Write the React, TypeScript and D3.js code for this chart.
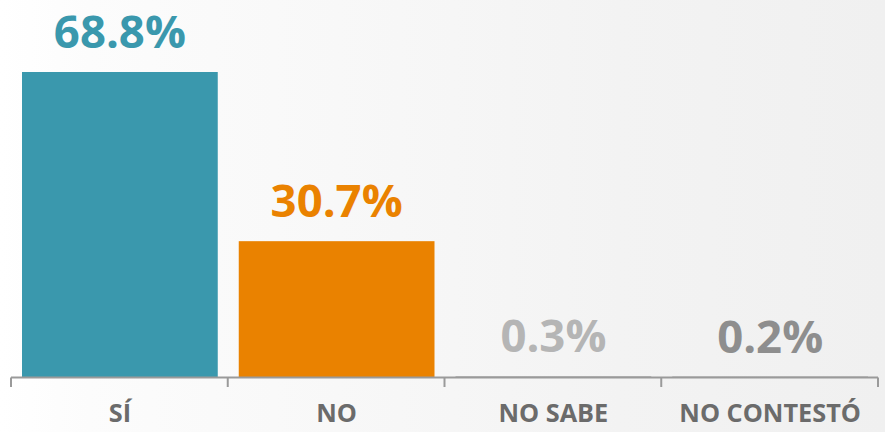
import React from "react";
import * as d3 from "d3";

const categories = ["SÍ", "NO", "NO SABE", "NO CONTESTÓ"];
const values = [68.8, 30.7, 0.3, 0.2];
const valueLabels = ["68.8%", "30.7%", "0.3%", "0.2%"];
const colors = ["#3a98ad", "#ea8200", "#b3b3b3", "#8c8c8c"];
const labelColors = ["#3a98ad", "#ea8200", "#b5b5b5", "#8e8e8e"];

const W = 885;
const H = 432;
const axisY = 377.5;
const x0 = 11;
const x1 = 878;
const font = "'Open Sans', 'DejaVu Sans', sans-serif";

export default function App() {
  const xCat = d3.scaleBand<string>().domain(categories).range([x0, x1]);
  const inset = 10.5;
  const barW = xCat.bandwidth() - 2 * inset;
  const y = d3.scaleLinear().domain([0, 68.8]).range([axisY, 72]);
  const ticks = d3.range(categories.length + 1).map((i) => x0 + (i * (x1 - x0)) / categories.length);

  return (
    <svg width={W} height={H} style={{ position: "absolute", left: 0, top: 0 }}>
      <defs>
        <linearGradient id="bg" x1="0" x2="1" y1="0" y2="0">
          <stop offset="0" stopColor="#ffffff" />
          <stop offset="0.1" stopColor="#fcfcfc" />
          <stop offset="0.45" stopColor="#f7f7f7" />
          <stop offset="0.7" stopColor="#f3f3f3" />
          <stop offset="1" stopColor="#f0f0f0" />
        </linearGradient>
      </defs>
      <rect x={0} y={0} width={W} height={H} fill="url(#bg)" />
      {categories.map((c, i) => (
        <rect key={c} x={(xCat(c) as number) + inset + 0.5} y={y(values[i])} width={barW} height={axisY - y(values[i])} fill={colors[i]} />
      ))}
      <line x1={x0} x2={x1} y1={axisY} y2={axisY} stroke="#9a9a9a" strokeWidth={2} />
      {ticks.map((t, i) => (
        <line key={i} x1={t} x2={t} y1={axisY} y2={387} stroke="#9a9a9a" strokeWidth={2} />
      ))}
      {categories.map((c, i) => (
        <text
          key={"v" + c}
          x={(xCat(c) as number) + xCat.bandwidth() / 2 + 0.5}
          y={y(values[i]) - 24}
          textAnchor="middle"
          fontFamily={font}
          fontWeight={700}
          fontSize={45.5}
          fill={labelColors[i]}
        >
          {valueLabels[i]}
        </text>
      ))}
      {categories.map((c) => (
        <text
          key={"c" + c}
          x={(xCat(c) as number) + xCat.bandwidth() / 2 + 0.5}
          y={422}
          textAnchor="middle"
          fontFamily={font}
          fontWeight={700}
          fontSize={25.3}
          fill="#6b6b6b"
        >
          {c}
        </text>
      ))}
    </svg>
  );
}
